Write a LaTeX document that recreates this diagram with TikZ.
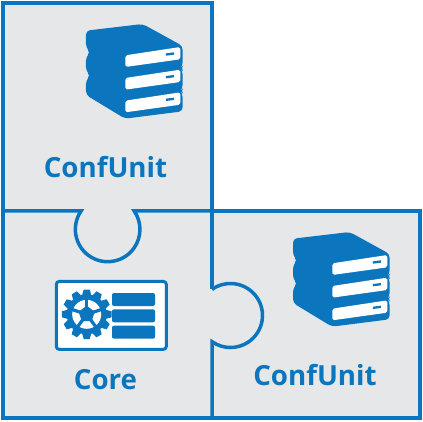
\documentclass[tikz,border=0pt]{standalone}
\usepackage{fontspec}
\setmainfont{Open Sans}
\usepackage{xcolor}
\usepackage{tikz}
\usetikzlibrary{positioning}
\definecolor{accent}{HTML}{0B75BE}
\definecolor{panelc}{HTML}{E6E7E9}
\tikzset{
  partline/.style={accent,line width=3.5pt,line join=miter},
  partlabel/.style={accent,font=\fontsize{27.7}{30}\selectfont\bfseries,inner sep=0pt},
  barbox/.style={fill=accent,rounded corners=2pt},
}
% stack of three books, local units are zoom pixels
\newcommand{\bookface}[1]{%
  \fill[white,rounded corners=1.8pt] (166,{136+#1}) -- (331,{111+#1}) -- (331,{148+#1}) -- (166,{171+#1}) -- cycle;
  \fill[accent] (288,{130+#1}) -- (312,{127+#1}) -- (312,{134+#1}) -- (288,{137+#1}) -- cycle;
}
\newcommand{\bookstack}[2]{%
  \begin{scope}[shift={(#1,#2)},x=0.3333pt,y=-0.3333pt]
    \fill[accent,rounded corners=4pt] (48,62) -- (218,42) -- (338,108) -- (338,168) -- (331,175) -- (338,182) -- (338,236) -- (331,243) -- (338,250) -- (338,304) -- (165,326) -- (48,255) -- (48,210) -- (62,196) -- (48,184) -- (48,140) -- (62,127) -- (48,114) -- cycle;
    \bookface{0}
    \bookface{68}
    \bookface{136}
  \end{scope}
}
\newcommand{\gearicon}[2]{%
  \begin{scope}[shift={(#1,#2)}]
    \fill[accent] (0,0) circle[radius=20];
    \foreach \a in {0,30,...,330}
      \fill[accent,rotate=\a] (19,-4.6) -- (24.8,-3) -- (24.8,3) -- (19,4.6) -- cycle;
    \fill[white] (0,0) circle[radius=14.5];
    \foreach \a in {-90,-18,54,126,198}
      \draw[accent,line width=3.2pt] (0,0) -- (\a:15);
    \fill[accent] (-90:8.5) -- (-18:8.5) -- (54:8.5) -- (126:8.5) -- (198:8.5) -- cycle;
  \end{scope}
}
\begin{document}
\begin{tikzpicture}[x=1pt,y=-1pt]
  \useasboundingbox (0,0) rectangle (423,422);
  \fill[white] (0,0) rectangle (423,422);
  \fill[panelc] (3,3) rectangle (212,418);
  \fill[panelc] (212,211) rectangle (420,418);
  % outline and the two knobs
  \draw[partline] (3,211) -- (3,3) -- (212,3) -- (212,289.4);
  \draw[partline] (212,211) -- (420,211) -- (420,418) -- (3,418) -- (3,211);
  \draw[partline] (3,211) -- (81.1,211) arc[start angle=214.7,end angle=-34.7,radius=32.3] -- (212,211);
  \draw[partline] (212,289.4) arc[start angle=-125.3,end angle=125.3,radius=32] -- (212,418);
  % icons
  \bookstack{70}{10}
  \bookstack{277}{218}
  \node[draw=accent,fill=white,line width=3pt,rounded corners=3pt,minimum width=110pt,minimum height=68pt,inner sep=0pt] (card) at (111.3,315.4) {};
  \gearicon{86.7}{314.3}
  \fill[barbox] (112,293) rectangle (155,306);
  \fill[barbox] (112,309.3) rectangle (155,322.3);
  \fill[barbox] (112,325.7) rectangle (155,338.7);
  % labels
  \node[partlabel] (topunit) at (105.5,167) {ConfUnit};
  \node[partlabel] (core) at (105.5,380) {Core};
  \node[partlabel] (rightunit) at (315,375.5) {ConfUnit};
\end{tikzpicture}
\end{document}
